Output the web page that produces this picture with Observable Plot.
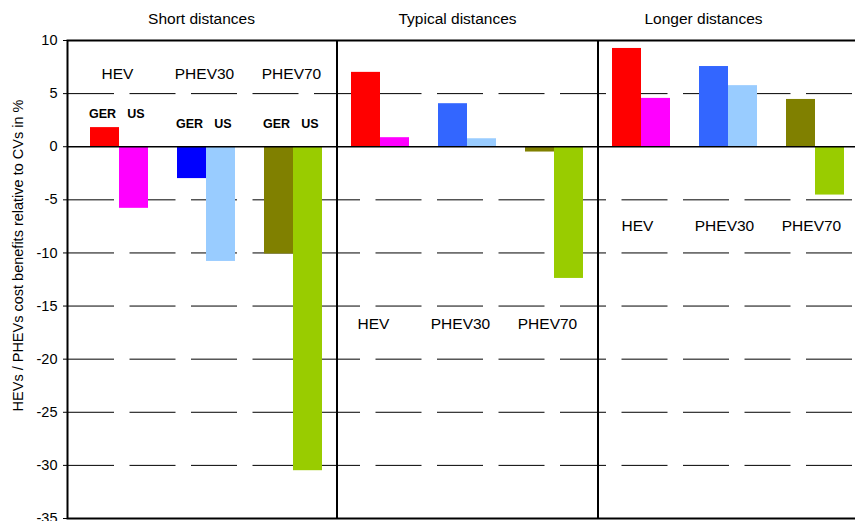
<!DOCTYPE html>
<html>
<head>
<meta charset="utf-8">
<script src="https://cdn.jsdelivr.net/npm/d3@7"></script>
<script src="https://cdn.jsdelivr.net/npm/@observablehq/plot@0.6"></script>
<style>
  html, body { margin: 0; padding: 0; background: #fff; overflow: hidden; }
  #chart { width: 855px; height: 521px; overflow: hidden; }
</style>
</head>
<body>
<div id="chart"></div>
<script>
// ---- data ----
const panels = ["Short distances", "Typical distances", "Longer distances"];
const types = ["HEV", "PHEV30", "PHEV70"];
const countries = ["GER", "US"];
const gerValues = [
  [1.8, -3.0, -10.1],   // Short
  [7.0, 4.05, -0.5],    // Typical
  [9.25, 7.55, 4.45]    // Longer
];
const usValues = [
  [-5.8, -10.8, -30.5],
  [0.85, 0.75, -12.4],
  [4.55, 5.75, -4.55]
];
const yTicks = [-35, -30, -25, -20, -15, -10, -5, 0, 5, 10];
const yLabel = "HEVs / PHEVs cost benefits relative to CVs in %";

// ---- build table ----
const rows = [];
const domain = [];
panels.forEach((p, pi) => {
  types.forEach((t, ti) => {
    countries.forEach((c) => {
      const key = `${p}|${t}|${c}`;
      domain.push(key);
      rows.push({panel: p, pi, type: t, country: c, key,
                 value: (c === "GER" ? gerValues : usValues)[pi][ti]});
    });
    if (!(pi === panels.length - 1 && ti === types.length - 1)) domain.push(`${p}|${t}|gap`);
  });
});

const colorOf = (d) => {
  if (d.type === "HEV") return d.country === "GER" ? "#ff0000" : "#ff00ff";
  if (d.type === "PHEV30") return d.country === "GER" ? (d.pi === 0 ? "#0000ff" : "#3366ff") : "#99ccff";
  return d.country === "GER" ? "#808000" : "#99cc00";
};

const font = "'Liberation Sans', Arial, sans-serif";

// style offsets (pixels)
const titleDx = [9.5, 4.5, -10.5];
const groupDx = [12.5, 7.5, 10.5];
const groupDy = [33.5, 283.5, 186];

const marks = [];
// dashed gridlines
marks.push(Plot.ruleY(yTicks.filter(v => v !== 0 && v !== -35 && v !== 10), {
  stroke: "#000", strokeWidth: 1, strokeDasharray: "46,15.5", strokeDashoffset: -1
}));
// bars
marks.push(Plot.barY(rows, {x: "key", y: "value", fill: colorOf}));
// zero line
marks.push(Plot.ruleY([0], {stroke: "#000", strokeWidth: 1.5}));
// panel dividers
marks.push(Plot.ruleX([`${panels[0]}|PHEV70|gap`, `${panels[1]}|PHEV70|gap`], {stroke: "#000", strokeWidth: 2}));
// frame
marks.push(Plot.frame({stroke: "#000", strokeWidth: 2}));
// y axis
marks.push(Plot.axisY({ticks: yTicks, tickSize: 4, tickPadding: 6, tickFormat: d => String(d),
  fontSize: 14.5, label: null, stroke: "#000"}));
// y label
marks.push(Plot.text([yLabel], {text: d => d, frameAnchor: "left", textAnchor: "middle", lineAnchor: "middle",
  rotate: -90, dx: -49.5, dy: -24, fontSize: 14.5, fill: "#000"}));
// panel titles & group labels
panels.forEach((p, pi) => {
  marks.push(Plot.text([p], {x: () => `${p}|PHEV30|GER`, text: d => d, frameAnchor: "top", lineAnchor: "middle",
    dx: titleDx[pi], dy: -21, fontSize: 15.5, fill: "#000"}));
  marks.push(Plot.text(types, {x: t => `${p}|${t}|GER`, text: t => t, frameAnchor: "top", lineAnchor: "middle",
    dx: groupDx[pi], dy: groupDy[pi], fontSize: 15.5, fill: "#000"}));
});
// GER / US labels (short distances panel)
const cLabelDx = {GER: -2.5, US: 2};
types.forEach((t, ti) => {
  countries.forEach(c => {
    marks.push(Plot.text([c], {x: () => `${panels[0]}|${t}|${c}`, text: d => d, frameAnchor: "top", lineAnchor: "middle",
      dx: cLabelDx[c], dy: ti === 0 ? 73 : 83, fontSize: 12.5, fontWeight: "bold", fill: "#000"}));
  });
});

const chart = Plot.plot({
  width: 855,
  height: 521,
  marginLeft: 67,
  marginRight: -4,
  marginTop: 40,
  marginBottom: 3,
  style: {fontFamily: font, fontSize: "14.5px", color: "#000", background: "#fff", overflow: "hidden"},
  x: {type: "band", domain, range: [75.5, 858.5], paddingInner: 0, paddingOuter: 0.5, axis: null},
  y: {domain: [-35, 10], nice: false},
  marks
});
document.getElementById("chart").appendChild(chart);
</script>
</body>
</html>
